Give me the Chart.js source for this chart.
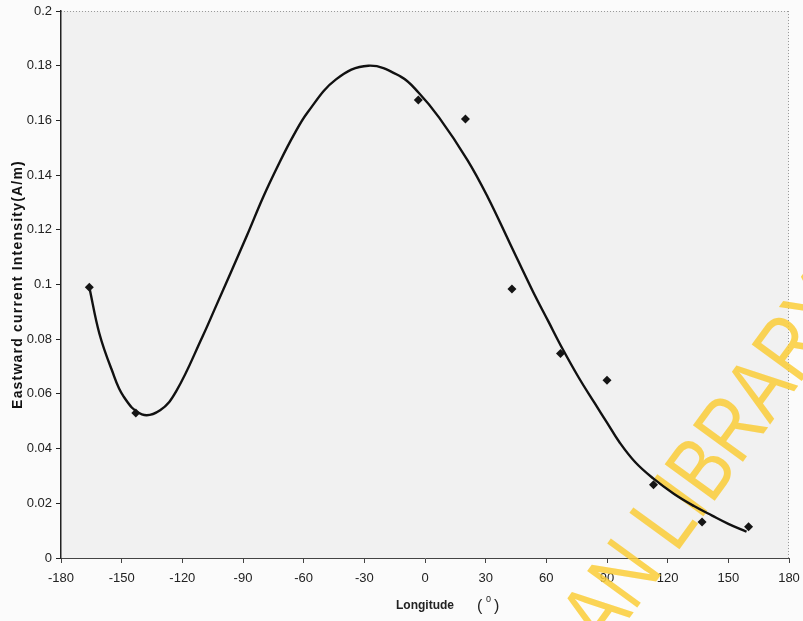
<!DOCTYPE html>
<html>
<head>
<meta charset="utf-8">
<script src="https://cdn.jsdelivr.net/npm/chart.js@4.4.0/dist/chart.umd.min.js"></script>
<style>
  html, body { margin: 0; padding: 0; background: #fbfbfb; }
  #wrap { width: 803px; height: 621px; }
</style>
</head>
<body>
<div id="wrap"><canvas id="grafico" width="803" height="621"></canvas></div>
<script>
// Pontos medidos
const pontosLon = [-166, -143, -3.3, 20, 43, 67, 90, 113, 137, 160];
const pontosVal = [0.099, 0.053, 0.1675, 0.1605, 0.0984, 0.0748, 0.065, 0.0268, 0.0132, 0.0114];

// Curva de tendência
const curvaLon = [-166, -161, -155, -149, -140, -131, -123, -110, -104, -88, -80, -72, -65, -58, -44, -28, -12, -3, 7, 21, 31, 42, 53, 61, 68, 76, 84, 90, 96, 104, 113, 123, 133, 142, 150, 159];
const curvaVal = [0.099, 0.082, 0.069, 0.059, 0.0525, 0.054, 0.061, 0.081, 0.091, 0.118, 0.132, 0.1445, 0.1545, 0.163, 0.175, 0.180, 0.176, 0.170, 0.161, 0.1455, 0.132, 0.115, 0.098, 0.0865, 0.0765, 0.066, 0.0565, 0.0495, 0.0425, 0.035, 0.029, 0.0235, 0.019, 0.0155, 0.0125, 0.0096];

const xTicks = [-180, -150, -120, -90, -60, -30, 0, 30, 60, 90, 120, 150, 180];

const tituloY = "Eastward current Intensity(A/m)";

const FONTE = "'Liberation Sans', Arial, sans-serif";

// fundo cinza da área do gráfico, bordas pontilhadas, títulos e marca d'água
const extras = {
  id: "extras",
  beforeDraw(chart) {
    const { ctx, chartArea: a } = chart;
    ctx.save();
    ctx.fillStyle = "#f1f1f1";
    ctx.fillRect(a.left, a.top, a.right - a.left, a.bottom - a.top);
    ctx.strokeStyle = "#9a9a9a";
    ctx.lineWidth = 1;
    ctx.setLineDash([1, 2]);
    ctx.beginPath();
    ctx.moveTo(a.left, a.top + 0.5);
    ctx.lineTo(a.right, a.top + 0.5);
    ctx.moveTo(a.right - 0.5, a.top);
    ctx.lineTo(a.right - 0.5, a.bottom);
    ctx.stroke();
    ctx.restore();
  },
  beforeDatasetsDraw(chart) {
    const { ctx } = chart;
    ctx.save();
    ctx.translate(676, 554);
    ctx.rotate(-54 * Math.PI / 180);
    ctx.scale(0.8, 1);
    ctx.fillStyle = "rgba(250, 205, 55, 0.85)";
    ctx.font = "90px " + FONTE;
    ctx.textBaseline = "alphabetic";
    ctx.textAlign = "left";
    ctx.fillText("LIBRARY", 0, 0);
    ctx.textAlign = "right";
    ctx.fillText("IBADAN ", 0, 0);
    ctx.restore();
  },
  afterDraw(chart) {
    const { ctx, chartArea: a } = chart;
    ctx.save();
    ctx.fillStyle = "#222";
    ctx.font = "16px " + FONTE;
    ctx.textBaseline = "middle";
    ctx.fillText("(", 477, 607);
    ctx.fillText(")", 494, 607);
    ctx.font = "9px " + FONTE;
    ctx.fillText("0", 486, 600);

    // título do eixo y, com espaçamento entre letras
    ctx.translate(18, (a.top + a.bottom) / 2);
    ctx.rotate(-Math.PI / 2);
    ctx.fillStyle = "#111";
    ctx.font = "bold 14px " + FONTE;
    ctx.letterSpacing = "1.2px";
    ctx.textAlign = "center";
    ctx.fillText(tituloY, 0, 0);
    ctx.restore();
  }
};

new Chart(document.getElementById("grafico"), {
  type: "scatter",
  data: {
    datasets: [
      {
        label: "Tendência",
        data: curvaLon.map((x, i) => ({ x: x, y: curvaVal[i] })),
        showLine: true,
        borderColor: "#111",
        borderWidth: 2.4,
        pointRadius: 0,
        tension: 0.4,
        order: 2,
      },
      {
        label: "Medidas",
        data: pontosLon.map((x, i) => ({ x: x, y: pontosVal[i] })),
        pointStyle: "rectRot",
        pointRadius: 4.5,
        backgroundColor: "#151515",
        borderColor: "#151515",
        borderWidth: 0,
        order: 1,
      },
    ],
  },
  options: {
    responsive: false,
    animation: false,
    layout: { padding: { left: 0, top: 11, right: 14, bottom: 0 } },
    plugins: {
      legend: { display: false },
      tooltip: { enabled: false },
    },
    scales: {
      x: {
        type: "linear",
        min: -180,
        max: 180,
        afterBuildTicks: (scale) => {
          scale.ticks = xTicks.map((v) => ({ value: v }));
        },
        afterFit: (scale) => {
          scale.height = 63;
          scale.paddingLeft = 0;
          scale.paddingRight = 0;
        },
        grid: { drawOnChartArea: false, drawTicks: true, tickLength: 5, color: "#444" },
        border: { display: true, color: "#444", width: 1, dash: [3, 1] },
        ticks: {
          color: "#222",
          padding: 8,
          font: { family: FONTE, size: 13 },
          maxRotation: 0,
        },
        title: {
          display: true,
          text: "Longitude",
          color: "#222",
          font: { family: FONTE, size: 12, weight: "bold" },
          padding: { top: 0, bottom: 8 },
        },
      },
      y: {
        min: 0,
        max: 0.2,
        afterFit: (scale) => {
          scale.width = 61;
          scale.paddingTop = 0;
          scale.paddingBottom = 0;
        },
        grid: { drawOnChartArea: false, drawTicks: true, tickLength: 5, color: "#222" },
        border: { display: true, color: "#222", width: 1.5 },
        ticks: {
          stepSize: 0.02,
          color: "#222",
          padding: 4,
          font: { family: FONTE, size: 13 },
          callback: (v) => String(Number(v.toFixed(2))),
        },
        title: { display: false },
      },
    },
  },
  plugins: [extras],
});
</script>
</body>
</html>
